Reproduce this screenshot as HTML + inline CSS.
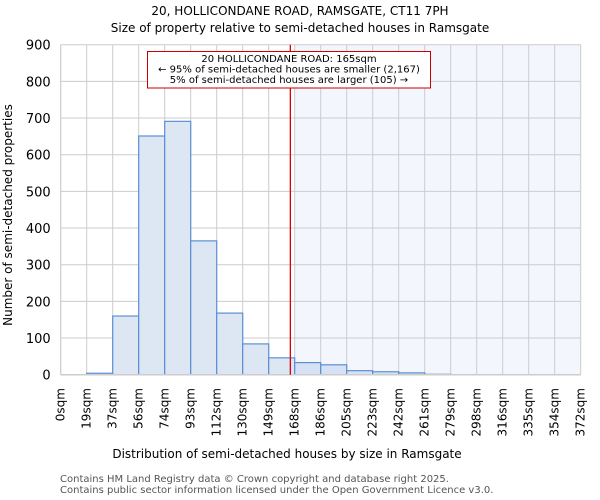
<!DOCTYPE html>
<html><head><meta charset="utf-8"><style>
body{margin:0;background:#fff;}
svg{display:block;font-family:"DejaVu Sans","Liberation Sans",sans-serif;}
</style></head><body>
<svg id="chart" width="600" height="500" viewBox="0 0 600 500">
<text x="300" y="15" text-anchor="middle" font-size="12">20, HOLLICONDANE ROAD, RAMSGATE, CT11 7PH</text>
<text x="300" y="32" text-anchor="middle" font-size="12">Size of property relative to semi-detached houses in Ramsgate</text>
<g id="plot"></g>
<text x="287" y="458" text-anchor="middle" font-size="12">Distribution of semi-detached houses by size in Ramsgate</text>
<text transform="translate(12,215) rotate(-90)" text-anchor="middle" font-size="12">Number of semi-detached properties</text>
<text x="60" y="482" font-size="10" fill="#555">Contains HM Land Registry data © Crown copyright and database right 2025.</text>
<text x="60" y="493" font-size="10" fill="#555">Contains public sector information licensed under the Open Government Licence v3.0.</text>
</svg>
<script>
const binEdges = [0,19,37,56,74,93,112,130,149,168,186,205,223,242,261,279,298,316,335,354,372];
const counts = [0,4,160,651,691,365,168,84,46,33,27,11,8,5,1,0,0,0,0,0];
const yTicks = [0,100,200,300,400,500,600,700,800,900];
const propertySize = 165;
const highlightStartBin = 9;

const NS = "http://www.w3.org/2000/svg";
const L = 60.7, R = 580.7, T = 44.7, B = 374.7, YMAX = 900;
const nb = counts.length;
const bw = (R - L) / nb;
const xb = i => L + i * bw;
const xs = v => L + v / 372 * (R - L);
const ys = v => B - v / YMAX * (B - T);
const g = document.getElementById('plot');
function mk(tag, attrs) { const e = document.createElementNS(NS, tag); for (const k in attrs) e.setAttribute(k, attrs[k]); g.appendChild(e); return e; }

let e = mk('rect', {x: xb(highlightStartBin), y: T, width: R - xb(highlightStartBin), height: B - T, fill: '#f3f6fd'});



yTicks.forEach(t => {
  let l = mk('line', {x1: L, x2: R, y1: ys(t), y2: ys(t), stroke: '#cccccc', 'stroke-width': 1});
  
  
  let tx = mk('text', {x: L - 10, y: ys(t) + 5, 'text-anchor': 'end', 'font-size': 13});
  tx.textContent = t;
  
  
});
binEdges.forEach((v, i) => {
  let l = mk('line', {x1: xb(i), x2: xb(i), y1: T, y2: B, stroke: '#cccccc', 'stroke-width': 1});
  
  
  let tx = mk('text', {transform: `translate(${xb(i) + 4},388) rotate(-90)`, 'text-anchor': 'end', 'font-size': 12});
  tx.textContent = v + 'sqm';
  
  
});
counts.forEach((c, i) => {
  if (c <= 0) return;
  let r = mk('rect', {x: xb(i), y: ys(c), width: bw, height: B - ys(c), fill: i >= highlightStartBin ? '#d6e1f3' : '#dde7f4', stroke: '#5b8fd6', 'stroke-width': 1.2});
  
  
});
let ax = mk('line', {x1: L, x2: R, y1: B, y2: B, stroke: '#cccccc', 'stroke-width': 1.5});


let ay = mk('line', {x1: L, x2: L, y1: T, y2: B, stroke: '#cccccc', 'stroke-width': 1});



let rl = mk('line', {x1: xs(propertySize) - 1, x2: xs(propertySize) - 1, y1: T, y2: B, stroke: '#dd0000', 'stroke-width': 1.3});



let box = mk('rect', {x: 147.5, y: 51.5, width: 283, height: 36.5, fill: '#fff', stroke: '#cc0000', 'stroke-width': 1});


const lines = ['20 HOLLICONDANE ROAD: 165sqm', '← 95% of semi-detached houses are smaller (2,167)', '5% of semi-detached houses are larger (105) →'];
lines.forEach((s, i) => {
  let t = mk('text', {x: 289, y: 62 + i * 10.5, 'text-anchor': 'middle', 'font-size': 10});
  t.textContent = s;
  
  
});
</script>
</body></html>
